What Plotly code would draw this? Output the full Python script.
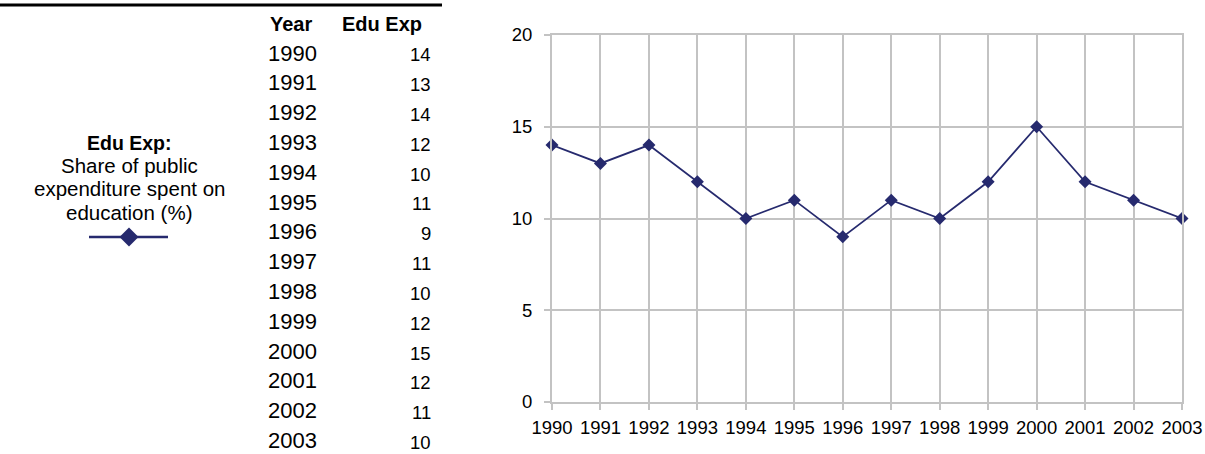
import plotly.graph_objects as go

# Share of public expenditure spent on education (%)
years = [1990, 1991, 1992, 1993, 1994, 1995, 1996, 1997, 1998, 1999, 2000, 2001, 2002, 2003]
edu_exp = [14, 13, 14, 12, 10, 11, 9, 11, 10, 12, 15, 12, 11, 10]
y_ticks = [0, 5, 10, 15, 20]

W, H = 1205, 454
NAVY = "#262a6e"
GRID = "#c3c3c3"
FONT = "Liberation Sans, Arial, sans-serif"


def px(x):
    return x / W


def py(y):
    return 1 - y / H


def label(x, y, text, anchor, size):
    return dict(x=px(x), y=py(y), xref="paper", yref="paper", text=text,
                showarrow=False, xanchor=anchor, yanchor="middle",
                font=dict(size=size, color="black"))


fig = go.Figure()
fig.add_trace(go.Scatter(
    x=years, y=edu_exp, mode="lines+markers",
    line=dict(color=NAVY, width=1.8),
    marker=dict(symbol="diamond", size=10, color=NAVY),
    cliponaxis=False, showlegend=False, hoverinfo="x+y",
))

# data table: headers and one row per year
annotations = [
    label(268, 24, "<b>Year</b>", "left", 20),
    label(424, 24, "<b>Edu Exp</b>", "right", 20),
]
for i, (yr, v) in enumerate(zip(years, edu_exp)):
    yc = 53 + i * 29.8
    annotations.append(label(266, yc, str(yr), "left", 22))
    annotations.append(label(433, yc + 2, str(v), "right", 18.5))

# series description with its swatch
annotations.append(label(129, 143, "<b>Edu Exp:</b>", "center", 19.5))
for j, line in enumerate(["Share of public", "expenditure spent on", "education (%)"]):
    annotations.append(label(129, 165 + j * 23.5, line, "center", 20.5))

shapes = [
    # rule above the table
    dict(type="line", xref="paper", yref="paper", x0=px(0), x1=px(442), y0=py(5), y1=py(5),
         line=dict(color="black", width=3)),
    # swatch line
    dict(type="line", xref="paper", yref="paper", x0=px(89), x1=px(168), y0=py(237), y1=py(237),
         line=dict(color=NAVY, width=2.5)),
]
cx, cy, r = 129, 237, 9.5
diamond = "M {} {} L {} {} L {} {} L {} {} Z".format(
    px(cx), py(cy - r), px(cx + r), py(cy), px(cx), py(cy + r), px(cx - r), py(cy))
shapes.append(dict(type="path", xref="paper", yref="paper", path=diamond,
                   fillcolor=NAVY, line=dict(color=NAVY, width=0)))

fig.update_layout(
    width=W, height=H,
    margin=dict(l=0, r=0, t=0, b=0, autoexpand=False),
    paper_bgcolor="white", plot_bgcolor="white",
    font=dict(family=FONT, color="black"),
    annotations=annotations, shapes=shapes,
    xaxis=dict(
        domain=[px(552), px(1182)], range=[1990, 2003],
        tickvals=years, ticktext=[str(y) for y in years],
        tickfont=dict(size=18.5), showgrid=True, gridcolor=GRID, gridwidth=2,
        showline=True, linecolor=GRID, linewidth=2,
        ticks="outside", ticklen=6, tickcolor=GRID, tickwidth=2, ticklabelstandoff=2,
        zeroline=False, mirror=True, fixedrange=True, automargin=False,
    ),
    yaxis=dict(
        domain=[py(402), py(35)], range=[0, 20],
        tickvals=y_ticks, tickfont=dict(size=18.5),
        showgrid=True, gridcolor=GRID, gridwidth=2,
        showline=True, linecolor=GRID, linewidth=2,
        ticks="outside", ticklen=6, tickcolor=GRID, tickwidth=2, ticklabelstandoff=8,
        zeroline=False, mirror=True, fixedrange=True, automargin=False,
    ),
)

fig.write_html("out.html")
